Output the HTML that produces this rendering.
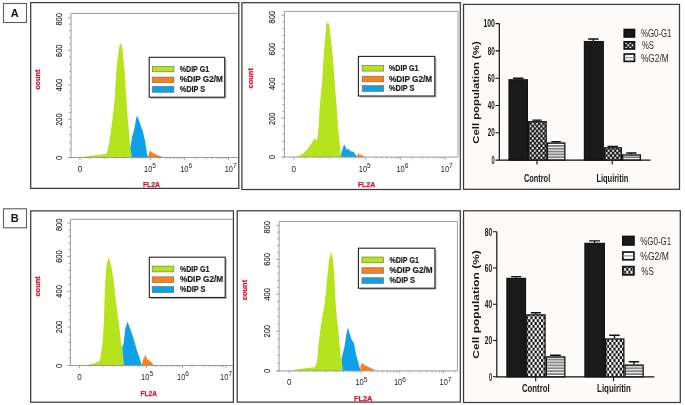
<!DOCTYPE html><html><head><meta charset="utf-8"><style>html,body{margin:0;padding:0;background:#fff;width:685px;height:405px;overflow:hidden;}svg{display:block;filter:blur(0.3px);}</style></head><body><svg width="685" height="405" viewBox="0 0 685 405" font-family='"Liberation Sans", sans-serif'>
<defs>
<pattern id="chkA" patternUnits="userSpaceOnUse" width="4.340" height="4.900"><rect width="4.340" height="4.900" fill="#111"/><rect x="2.350" y="0.180" width="1.810" height="2.090" fill="#fff"/><rect x="0.180" y="2.630" width="1.810" height="2.090" fill="#fff"/></pattern>
<pattern id="chkB" patternUnits="userSpaceOnUse" width="4.260" height="5.700"><rect width="4.260" height="5.700" fill="#111"/><rect x="2.130" y="0.000" width="2.130" height="2.850" fill="#fff"/><rect x="0.000" y="2.850" width="2.130" height="2.850" fill="#fff"/></pattern>
<pattern id="strA" patternUnits="userSpaceOnUse" width="10" height="2.85" y="0.5"><rect width="10" height="2.85" fill="#fff"/><rect y="-0.50" width="10" height="1.0" fill="#151515"/><rect y="2.35" width="10" height="1.0" fill="#151515"/></pattern>
<pattern id="strB" patternUnits="userSpaceOnUse" width="10" height="2.9" y="0.0"><rect width="10" height="2.9" fill="#fff"/><rect y="-0.50" width="10" height="1.0" fill="#151515"/><rect y="2.40" width="10" height="1.0" fill="#151515"/></pattern>
</defs>
<rect width="685" height="405" fill="#fff"/>
<rect x="3.5" y="3.5" width="23" height="19" fill="#fff" stroke="#5a5f63" stroke-width="1.1"/>
<text x="14.8" y="16.9" font-size="11" text-anchor="middle" font-weight="bold" fill="#111">A</text>
<rect x="3.5" y="208.8" width="23" height="19" fill="#fff" stroke="#5a5f63" stroke-width="1.1"/>
<text x="14.8" y="222.0" font-size="11" text-anchor="middle" font-weight="bold" fill="#111">B</text>
<rect x="30.7" y="2.6" width="208.10" height="185.80" fill="none" stroke="#3c3c3c" stroke-width="1.25"/>
<polygon points="81.5,157.5 84.0,156.7 88.0,156.1 93.0,155.5 98.0,154.9 103.0,154.3 106.2,154.1 107.5,150.4 109.0,145.0 110.3,135.2 112.5,119.1 114.9,97.0 115.6,82.4 116.6,67.6 118.4,52.8 119.1,46.9 120.6,43.3 122.3,46.9 122.8,52.8 124.3,67.6 125.4,82.4 126.2,97.0 127.8,119.1 129.3,135.2 130.2,148.0 131.9,157.5" fill="#b5e41c"/>
<polygon points="131.9,157.5 130.2,148.0 132.3,135.9 134.5,128.1 136.5,116.5 137.0,115.9 138.5,119.0 140.0,123.3 141.7,128.3 143.0,131.5 144.0,136.7 145.2,141.5 146.0,146.7 147.3,155.0 148.2,157.5" fill="#0fa1e7"/>
<polygon points="148.0,157.5 148.8,153.5 150.1,150.5 151.0,151.5 152.2,152.6 154.0,153.5 155.5,154.2 157.6,155.3 159.5,156.0 161.7,156.6 165.1,157.5" fill="#f8801f"/>
<path d="M71.0,157.5 V13.4 H238.0" fill="none" stroke="#9a9a9a" stroke-width="1"/>
<path d="M69.0,157.5 H238.0" fill="none" stroke="#9a9a9a" stroke-width="1"/>
<path d="M68.0,17.6H71.0M69.0,24.2H71.0M69.0,30.7H71.0M69.0,37.3H71.0M69.0,43.8H71.0M68.0,50.4H71.0M69.0,57.3H71.0M69.0,64.2H71.0M69.0,71.2H71.0M69.0,78.1H71.0M68.0,85.0H71.0M69.0,91.9H71.0M69.0,98.8H71.0M69.0,105.6H71.0M69.0,112.5H71.0M68.0,119.4H71.0M69.0,127.0H71.0M69.0,134.6H71.0M69.0,142.3H71.0M69.0,149.9H71.0M68.0,157.5H71.0" stroke="#9a9a9a" stroke-width="0.9"/>
<text x="61.9" y="19.3" font-size="9.2" text-anchor="middle" fill="#262626" textLength="12.5" lengthAdjust="spacingAndGlyphs" transform="rotate(-90 61.9 19.3)" stroke="#262626" stroke-width="0.15">800</text>
<text x="61.9" y="50.7" font-size="9.2" text-anchor="middle" fill="#262626" textLength="12.5" lengthAdjust="spacingAndGlyphs" transform="rotate(-90 61.9 50.7)" stroke="#262626" stroke-width="0.15">600</text>
<text x="61.9" y="85.1" font-size="9.2" text-anchor="middle" fill="#262626" textLength="12.5" lengthAdjust="spacingAndGlyphs" transform="rotate(-90 61.9 85.1)" stroke="#262626" stroke-width="0.15">400</text>
<text x="61.9" y="119.6" font-size="9.2" text-anchor="middle" fill="#262626" textLength="12.5" lengthAdjust="spacingAndGlyphs" transform="rotate(-90 61.9 119.6)" stroke="#262626" stroke-width="0.15">200</text>
<text x="61.9" y="157.8" font-size="9.2" text-anchor="middle" fill="#262626" textLength="4.2" lengthAdjust="spacingAndGlyphs" transform="rotate(-90 61.9 157.8)" stroke="#262626" stroke-width="0.15">0</text>
<path d="M80.0,157.5v2.5M150.2,157.5v2.5M184.8,157.5v2.5M228.5,157.5v2.5M90.0,157.5v1.5M105.0,157.5v1.5M115.0,157.5v1.5M125.0,157.5v1.5M132.0,157.5v1.5M137.0,157.5v1.5M141.0,157.5v1.5M144.0,157.5v1.5M147.0,157.5v1.5M160.0,157.5v1.5M166.0,157.5v1.5M170.0,157.5v1.5M174.0,157.5v1.5M177.0,157.5v1.5M180.0,157.5v1.5M182.5,157.5v1.5M195.0,157.5v1.5M206.0,157.5v1.5M212.0,157.5v1.5M217.0,157.5v1.5M221.0,157.5v1.5M224.0,157.5v1.5M226.5,157.5v1.5" stroke="#9a9a9a" stroke-width="0.9"/>
<text x="80.0" y="171.7" font-size="9.2" text-anchor="middle" fill="#262626" textLength="4.5" lengthAdjust="spacingAndGlyphs">0</text>
<text x="144.0" y="171.7" font-size="9.2" fill="#262626" textLength="8.3" lengthAdjust="spacingAndGlyphs">10</text>
<text x="152.3" y="168.2" font-size="6.3" fill="#262626" textLength="3.7" lengthAdjust="spacingAndGlyphs">5</text>
<text x="180.2" y="171.7" font-size="9.2" fill="#262626" textLength="8.3" lengthAdjust="spacingAndGlyphs">10</text>
<text x="188.5" y="168.2" font-size="6.3" fill="#262626" textLength="3.7" lengthAdjust="spacingAndGlyphs">6</text>
<text x="224.7" y="171.7" font-size="9.2" fill="#262626" textLength="8.3" lengthAdjust="spacingAndGlyphs">10</text>
<text x="233.0" y="168.2" font-size="6.3" fill="#262626" textLength="3.7" lengthAdjust="spacingAndGlyphs">7</text>
<text x="40.0" y="79.6" font-size="7.6" text-anchor="middle" font-weight="bold" fill="#d2122c" textLength="20.4" lengthAdjust="spacingAndGlyphs" transform="rotate(-90 40.0 79.6)" stroke="#d2122c" stroke-width="0.25">count</text>
<text x="142.9" y="186.9" font-size="8.1" font-weight="bold" fill="#d2122c" textLength="17.2" lengthAdjust="spacingAndGlyphs" stroke="#d2122c" stroke-width="0.25">FL2A</text>
<rect x="150.8" y="58.9" width="75.5" height="39.9" fill="#8a8a8a" opacity="0.6"/>
<rect x="149.2" y="57.3" width="75.5" height="39.9" fill="#fff" stroke="#222" stroke-width="1.1"/>
<rect x="152.4" y="66.3" width="21.5" height="5.5" fill="#b5e41c" stroke="#6a6a5a" stroke-width="0.7" stroke-opacity="0.85"/>
<text x="179.7" y="71.6" font-size="8.4" font-weight="bold" fill="#1e1e1e" textLength="29.5" lengthAdjust="spacingAndGlyphs" stroke="#1e1e1e" stroke-width="0.2">%DIP G1</text>
<rect x="152.4" y="77.1" width="21.5" height="5.5" fill="#f8801f" stroke="#6a6a5a" stroke-width="0.7" stroke-opacity="0.85"/>
<text x="179.7" y="82.4" font-size="8.4" font-weight="bold" fill="#1e1e1e" textLength="43.2" lengthAdjust="spacingAndGlyphs" stroke="#1e1e1e" stroke-width="0.2">%DIP G2/M</text>
<rect x="152.4" y="86.4" width="21.5" height="5.9" fill="#0fa1e7" stroke="#6a6a5a" stroke-width="0.7" stroke-opacity="0.85"/>
<text x="179.7" y="91.9" font-size="8.4" font-weight="bold" fill="#1e1e1e" textLength="25.5" lengthAdjust="spacingAndGlyphs" stroke="#1e1e1e" stroke-width="0.2">%DIP S</text>
<rect x="241.9" y="2.7" width="218.40" height="186.80" fill="none" stroke="#3c3c3c" stroke-width="1.25"/>
<polygon points="295.1,157.1 300.8,155.0 306.0,151.1 309.8,146.0 313.0,140.8 315.0,138.0 316.5,141.5 317.8,135.7 318.8,125.4 319.5,110.0 320.8,95.0 321.9,85.0 323.8,55.0 326.3,24.0 327.8,22.5 329.1,24.0 332.7,55.0 335.3,90.0 336.9,110.0 338.2,129.3 339.5,142.1 340.9,157.1" fill="#b5e41c"/>
<polygon points="340.9,157.1 341.5,152.0 342.5,149.5 343.5,146.0 344.8,145.0 346.0,148.0 347.0,150.0 348.5,148.5 350.0,151.0 352.0,151.5 353.5,152.0 355.0,154.0 356.5,155.5 357.0,157.1" fill="#0fa1e7"/>
<polygon points="357.0,157.1 357.5,155.0 358.3,152.5 359.5,155.0 361.0,154.5 362.0,155.5 364.0,156.0 365.0,157.1" fill="#f8801f"/>
<path d="M284.4,157.1 V11.4 H458.0" fill="none" stroke="#9a9a9a" stroke-width="1"/>
<path d="M458.0,11.4 V157.1" fill="none" stroke="#a0a0a0" stroke-width="1"/>
<path d="M282.4,157.1 H458.0" fill="none" stroke="#9a9a9a" stroke-width="1"/>
<path d="M281.4,15.2H284.4M282.4,21.9H284.4M282.4,28.6H284.4M282.4,35.4H284.4M282.4,42.1H284.4M281.4,48.8H284.4M282.4,55.9H284.4M282.4,62.9H284.4M282.4,70.0H284.4M282.4,77.0H284.4M281.4,84.1H284.4M282.4,90.9H284.4M282.4,97.8H284.4M282.4,104.6H284.4M282.4,111.5H284.4M281.4,118.3H284.4M282.4,126.1H284.4M282.4,133.8H284.4M282.4,141.6H284.4M282.4,149.3H284.4M281.4,157.1H284.4" stroke="#9a9a9a" stroke-width="0.9"/>
<text x="275.4" y="17.2" font-size="9.2" text-anchor="middle" fill="#262626" textLength="12.5" lengthAdjust="spacingAndGlyphs" transform="rotate(-90 275.4 17.2)" stroke="#262626" stroke-width="0.15">800</text>
<text x="275.4" y="49.2" font-size="9.2" text-anchor="middle" fill="#262626" textLength="12.5" lengthAdjust="spacingAndGlyphs" transform="rotate(-90 275.4 49.2)" stroke="#262626" stroke-width="0.15">600</text>
<text x="275.4" y="83.8" font-size="9.2" text-anchor="middle" fill="#262626" textLength="12.5" lengthAdjust="spacingAndGlyphs" transform="rotate(-90 275.4 83.8)" stroke="#262626" stroke-width="0.15">400</text>
<text x="275.4" y="118.7" font-size="9.2" text-anchor="middle" fill="#262626" textLength="12.5" lengthAdjust="spacingAndGlyphs" transform="rotate(-90 275.4 118.7)" stroke="#262626" stroke-width="0.15">200</text>
<text x="275.4" y="157.2" font-size="9.2" text-anchor="middle" fill="#262626" textLength="4.2" lengthAdjust="spacingAndGlyphs" transform="rotate(-90 275.4 157.2)" stroke="#262626" stroke-width="0.15">0</text>
<path d="M293.7,157.1v2.5M365.3,157.1v2.5M400.4,157.1v2.5M445.0,157.1v2.5M305.0,157.1v1.5M320.0,157.1v1.5M330.0,157.1v1.5M340.0,157.1v1.5M346.0,157.1v1.5M351.0,157.1v1.5M355.0,157.1v1.5M358.5,157.1v1.5M362.0,157.1v1.5M376.0,157.1v1.5M382.0,157.1v1.5M387.0,157.1v1.5M391.0,157.1v1.5M394.0,157.1v1.5M397.0,157.1v1.5M398.8,157.1v1.5M412.0,157.1v1.5M422.0,157.1v1.5M429.0,157.1v1.5M434.0,157.1v1.5M438.0,157.1v1.5M441.0,157.1v1.5M443.0,157.1v1.5" stroke="#9a9a9a" stroke-width="0.9"/>
<text x="293.7" y="171.8" font-size="9.2" text-anchor="middle" fill="#262626" textLength="4.5" lengthAdjust="spacingAndGlyphs">0</text>
<text x="358.8" y="171.8" font-size="9.2" fill="#262626" textLength="8.3" lengthAdjust="spacingAndGlyphs">10</text>
<text x="367.1" y="168.3" font-size="6.3" fill="#262626" textLength="3.7" lengthAdjust="spacingAndGlyphs">5</text>
<text x="396.4" y="171.8" font-size="9.2" fill="#262626" textLength="8.3" lengthAdjust="spacingAndGlyphs">10</text>
<text x="404.7" y="168.3" font-size="6.3" fill="#262626" textLength="3.7" lengthAdjust="spacingAndGlyphs">6</text>
<text x="440.8" y="171.8" font-size="9.2" fill="#262626" textLength="8.3" lengthAdjust="spacingAndGlyphs">10</text>
<text x="449.1" y="168.3" font-size="6.3" fill="#262626" textLength="3.7" lengthAdjust="spacingAndGlyphs">7</text>
<text x="252.7" y="78.3" font-size="7.6" text-anchor="middle" font-weight="bold" fill="#d2122c" textLength="20.4" lengthAdjust="spacingAndGlyphs" transform="rotate(-90 252.7 78.3)" stroke="#d2122c" stroke-width="0.25">count</text>
<text x="357.9" y="186.7" font-size="8.1" font-weight="bold" fill="#d2122c" textLength="17.3" lengthAdjust="spacingAndGlyphs" stroke="#d2122c" stroke-width="0.25">FL2A</text>
<rect x="360.0" y="58.0" width="76.4" height="39.6" fill="#8a8a8a" opacity="0.6"/>
<rect x="358.4" y="56.4" width="76.4" height="39.6" fill="#fff" stroke="#222" stroke-width="1.1"/>
<rect x="362.2" y="65.4" width="21.5" height="5.7" fill="#b5e41c" stroke="#6a6a5a" stroke-width="0.7" stroke-opacity="0.85"/>
<text x="389.0" y="70.8" font-size="8.4" font-weight="bold" fill="#1e1e1e" textLength="29.5" lengthAdjust="spacingAndGlyphs" stroke="#1e1e1e" stroke-width="0.2">%DIP G1</text>
<rect x="362.2" y="76.2" width="21.5" height="5.6" fill="#f8801f" stroke="#6a6a5a" stroke-width="0.7" stroke-opacity="0.85"/>
<text x="389.0" y="81.6" font-size="8.4" font-weight="bold" fill="#1e1e1e" textLength="43.2" lengthAdjust="spacingAndGlyphs" stroke="#1e1e1e" stroke-width="0.2">%DIP G2/M</text>
<rect x="362.2" y="85.6" width="21.5" height="5.8" fill="#0fa1e7" stroke="#6a6a5a" stroke-width="0.7" stroke-opacity="0.85"/>
<text x="389.0" y="91.1" font-size="8.4" font-weight="bold" fill="#1e1e1e" textLength="25.5" lengthAdjust="spacingAndGlyphs" stroke="#1e1e1e" stroke-width="0.2">%DIP S</text>
<rect x="30.7" y="210.9" width="202.70" height="191.30" fill="none" stroke="#3c3c3c" stroke-width="1.25"/>
<polygon points="81.9,365.5 86.0,365.0 90.0,364.3 95.0,363.0 99.2,361.3 100.6,358.0 101.5,350.0 102.6,343.0 104.0,320.0 104.5,300.0 105.4,279.7 106.6,264.9 108.7,257.1 111.0,264.9 113.6,279.7 115.1,294.6 117.0,310.0 119.0,325.0 121.1,342.2 122.2,348.0 123.9,365.5" fill="#b5e41c"/>
<polygon points="123.9,365.5 122.2,348.0 123.8,342.2 125.2,328.6 127.5,321.8 130.7,330.0 133.6,338.8 136.6,349.2 139.6,358.0 141.8,365.5" fill="#0fa1e7"/>
<polygon points="141.8,365.5 142.8,360.0 144.5,357.0 145.6,354.4 146.5,358.0 148.0,360.0 150.0,361.0 152.0,363.0 154.0,365.5" fill="#f8801f"/>
<path d="M70.4,365.5 V219.3 H233.0" fill="none" stroke="#9a9a9a" stroke-width="1"/>
<path d="M68.4,365.5 H233.0" fill="none" stroke="#9a9a9a" stroke-width="1"/>
<path d="M67.4,223.0H70.4M68.4,229.7H70.4M68.4,236.4H70.4M68.4,243.0H70.4M68.4,249.7H70.4M67.4,256.4H70.4M68.4,263.4H70.4M68.4,270.4H70.4M68.4,277.4H70.4M68.4,284.4H70.4M67.4,291.4H70.4M68.4,298.5H70.4M68.4,305.6H70.4M68.4,312.8H70.4M68.4,319.9H70.4M67.4,327.0H70.4M68.4,334.7H70.4M68.4,342.4H70.4M68.4,350.1H70.4M68.4,357.8H70.4M67.4,365.5H70.4" stroke="#9a9a9a" stroke-width="0.9"/>
<text x="62.4" y="224.8" font-size="9.2" text-anchor="middle" fill="#262626" textLength="12.5" lengthAdjust="spacingAndGlyphs" transform="rotate(-90 62.4 224.8)" stroke="#262626" stroke-width="0.15">800</text>
<text x="62.4" y="256.6" font-size="9.2" text-anchor="middle" fill="#262626" textLength="12.5" lengthAdjust="spacingAndGlyphs" transform="rotate(-90 62.4 256.6)" stroke="#262626" stroke-width="0.15">600</text>
<text x="62.4" y="291.4" font-size="9.2" text-anchor="middle" fill="#262626" textLength="12.5" lengthAdjust="spacingAndGlyphs" transform="rotate(-90 62.4 291.4)" stroke="#262626" stroke-width="0.15">400</text>
<text x="62.4" y="327.0" font-size="9.2" text-anchor="middle" fill="#262626" textLength="12.5" lengthAdjust="spacingAndGlyphs" transform="rotate(-90 62.4 327.0)" stroke="#262626" stroke-width="0.15">200</text>
<text x="62.4" y="365.9" font-size="9.2" text-anchor="middle" fill="#262626" textLength="4.2" lengthAdjust="spacingAndGlyphs" transform="rotate(-90 62.4 365.9)" stroke="#262626" stroke-width="0.15">0</text>
<path d="M79.4,365.5v2.5M146.5,365.5v2.5M182.5,365.5v2.5M226.0,365.5v2.5M90.0,365.5v1.5M103.0,365.5v1.5M113.0,365.5v1.5M122.0,365.5v1.5M129.0,365.5v1.5M134.0,365.5v1.5M138.0,365.5v1.5M141.0,365.5v1.5M144.0,365.5v1.5M156.0,365.5v1.5M162.0,365.5v1.5M167.0,365.5v1.5M171.0,365.5v1.5M174.0,365.5v1.5M177.0,365.5v1.5M179.5,365.5v1.5M192.0,365.5v1.5M203.0,365.5v1.5M209.0,365.5v1.5M214.0,365.5v1.5M218.0,365.5v1.5M221.0,365.5v1.5M223.5,365.5v1.5" stroke="#9a9a9a" stroke-width="0.9"/>
<text x="79.4" y="379.8" font-size="9.2" text-anchor="middle" fill="#262626" textLength="4.5" lengthAdjust="spacingAndGlyphs">0</text>
<text x="141.1" y="379.8" font-size="9.2" fill="#262626" textLength="8.3" lengthAdjust="spacingAndGlyphs">10</text>
<text x="149.4" y="376.3" font-size="6.3" fill="#262626" textLength="3.7" lengthAdjust="spacingAndGlyphs">5</text>
<text x="177.0" y="379.8" font-size="9.2" fill="#262626" textLength="8.3" lengthAdjust="spacingAndGlyphs">10</text>
<text x="185.3" y="376.3" font-size="6.3" fill="#262626" textLength="3.7" lengthAdjust="spacingAndGlyphs">6</text>
<text x="220.1" y="379.8" font-size="9.2" fill="#262626" textLength="8.3" lengthAdjust="spacingAndGlyphs">10</text>
<text x="228.4" y="376.3" font-size="6.3" fill="#262626" textLength="3.7" lengthAdjust="spacingAndGlyphs">7</text>
<text x="40.1" y="286.4" font-size="7.6" text-anchor="middle" font-weight="bold" fill="#d2122c" textLength="20.4" lengthAdjust="spacingAndGlyphs" transform="rotate(-90 40.1 286.4)" stroke="#d2122c" stroke-width="0.25">count</text>
<text x="140.4" y="395.5" font-size="8.1" font-weight="bold" fill="#d2122c" textLength="16.5" lengthAdjust="spacingAndGlyphs" stroke="#d2122c" stroke-width="0.25">FL2A</text>
<rect x="150.9" y="258.8" width="75.9" height="40.3" fill="#8a8a8a" opacity="0.6"/>
<rect x="149.3" y="257.2" width="75.9" height="40.3" fill="#fff" stroke="#222" stroke-width="1.1"/>
<rect x="152.2" y="266.1" width="21.6" height="5.8" fill="#b5e41c" stroke="#6a6a5a" stroke-width="0.7" stroke-opacity="0.85"/>
<text x="179.9" y="271.6" font-size="8.4" font-weight="bold" fill="#1e1e1e" textLength="29.5" lengthAdjust="spacingAndGlyphs" stroke="#1e1e1e" stroke-width="0.2">%DIP G1</text>
<rect x="152.2" y="276.8" width="21.6" height="5.7" fill="#f8801f" stroke="#6a6a5a" stroke-width="0.7" stroke-opacity="0.85"/>
<text x="179.9" y="282.2" font-size="8.4" font-weight="bold" fill="#1e1e1e" textLength="43.2" lengthAdjust="spacingAndGlyphs" stroke="#1e1e1e" stroke-width="0.2">%DIP G2/M</text>
<rect x="152.2" y="286.5" width="21.6" height="6.1" fill="#0fa1e7" stroke="#6a6a5a" stroke-width="0.7" stroke-opacity="0.85"/>
<text x="179.9" y="292.2" font-size="8.4" font-weight="bold" fill="#1e1e1e" textLength="25.5" lengthAdjust="spacingAndGlyphs" stroke="#1e1e1e" stroke-width="0.2">%DIP S</text>
<rect x="237.2" y="210.8" width="223.10" height="191.30" fill="none" stroke="#3c3c3c" stroke-width="1.25"/>
<polygon points="290.4,370.9 295.0,369.8 300.0,369.0 305.0,368.3 310.0,367.8 314.0,367.3 315.2,366.7 316.7,363.0 317.6,355.6 318.3,346.3 319.4,337.0 320.7,327.8 322.0,318.5 323.7,309.3 324.9,302.0 326.1,289.6 327.6,274.7 329.1,259.9 331.3,251.7 333.1,259.9 334.3,274.7 335.0,289.6 335.8,305.2 336.9,318.5 338.0,327.8 338.9,337.0 339.6,345.6 340.9,358.5 342.8,370.9" fill="#b5e41c"/>
<polygon points="342.8,370.9 341.4,359.5 343.2,352.0 344.7,345.6 346.3,334.5 348.0,327.4 349.5,333.0 351.3,338.9 354.1,343.5 355.9,353.7 358.7,363.9 360.6,370.9" fill="#0fa1e7"/>
<polygon points="360.2,370.9 360.5,365.5 362.0,363.0 363.5,364.2 366.0,365.7 368.0,366.8 370.7,368.1 373.0,369.2 376.0,370.9" fill="#f8801f"/>
<path d="M279.1,370.9 V221.5 H457.4" fill="none" stroke="#9a9a9a" stroke-width="1"/>
<path d="M457.4,221.5 V370.9" fill="none" stroke="#a0a0a0" stroke-width="1"/>
<path d="M277.1,370.9 H457.4" fill="none" stroke="#9a9a9a" stroke-width="1"/>
<path d="M276.1,225.4H279.1M277.1,232.2H279.1M277.1,239.0H279.1M277.1,245.7H279.1M277.1,252.5H279.1M276.1,259.3H279.1M277.1,266.3H279.1M277.1,273.3H279.1M277.1,280.3H279.1M277.1,287.3H279.1M276.1,294.3H279.1M277.1,301.7H279.1M277.1,309.1H279.1M277.1,316.4H279.1M277.1,323.8H279.1M276.1,331.2H279.1M277.1,339.1H279.1M277.1,347.1H279.1M277.1,355.0H279.1M277.1,363.0H279.1M276.1,370.9H279.1" stroke="#9a9a9a" stroke-width="0.9"/>
<text x="269.6" y="227.3" font-size="9.2" text-anchor="middle" fill="#262626" textLength="12.5" lengthAdjust="spacingAndGlyphs" transform="rotate(-90 269.6 227.3)" stroke="#262626" stroke-width="0.15">800</text>
<text x="269.6" y="259.4" font-size="9.2" text-anchor="middle" fill="#262626" textLength="12.5" lengthAdjust="spacingAndGlyphs" transform="rotate(-90 269.6 259.4)" stroke="#262626" stroke-width="0.15">600</text>
<text x="269.6" y="294.3" font-size="9.2" text-anchor="middle" fill="#262626" textLength="12.5" lengthAdjust="spacingAndGlyphs" transform="rotate(-90 269.6 294.3)" stroke="#262626" stroke-width="0.15">400</text>
<text x="269.6" y="331.2" font-size="9.2" text-anchor="middle" fill="#262626" textLength="12.5" lengthAdjust="spacingAndGlyphs" transform="rotate(-90 269.6 331.2)" stroke="#262626" stroke-width="0.15">200</text>
<text x="269.6" y="371.0" font-size="9.2" text-anchor="middle" fill="#262626" textLength="4.2" lengthAdjust="spacingAndGlyphs" transform="rotate(-90 269.6 371.0)" stroke="#262626" stroke-width="0.15">0</text>
<path d="M289.2,370.9v2.5M361.2,370.9v2.5M399.8,370.9v2.5M443.6,370.9v2.5M300.0,370.9v1.5M315.0,370.9v1.5M326.0,370.9v1.5M336.0,370.9v1.5M343.0,370.9v1.5M348.0,370.9v1.5M352.0,370.9v1.5M355.0,370.9v1.5M358.5,370.9v1.5M372.0,370.9v1.5M378.0,370.9v1.5M383.0,370.9v1.5M387.0,370.9v1.5M390.5,370.9v1.5M394.0,370.9v1.5M396.8,370.9v1.5M410.0,370.9v1.5M420.0,370.9v1.5M427.0,370.9v1.5M432.0,370.9v1.5M436.0,370.9v1.5M439.5,370.9v1.5M441.8,370.9v1.5M454.9,370.9v1.5" stroke="#9a9a9a" stroke-width="0.9"/>
<text x="289.2" y="385.3" font-size="9.2" text-anchor="middle" fill="#262626" textLength="4.5" lengthAdjust="spacingAndGlyphs">0</text>
<text x="355.4" y="385.3" font-size="9.2" fill="#262626" textLength="8.3" lengthAdjust="spacingAndGlyphs">10</text>
<text x="363.7" y="381.8" font-size="6.3" fill="#262626" textLength="3.7" lengthAdjust="spacingAndGlyphs">5</text>
<text x="393.9" y="385.3" font-size="9.2" fill="#262626" textLength="8.3" lengthAdjust="spacingAndGlyphs">10</text>
<text x="402.2" y="381.8" font-size="6.3" fill="#262626" textLength="3.7" lengthAdjust="spacingAndGlyphs">6</text>
<text x="439.5" y="385.3" font-size="9.2" fill="#262626" textLength="8.3" lengthAdjust="spacingAndGlyphs">10</text>
<text x="447.8" y="381.8" font-size="6.3" fill="#262626" textLength="3.7" lengthAdjust="spacingAndGlyphs">7</text>
<text x="246.6" y="290.0" font-size="7.6" text-anchor="middle" font-weight="bold" fill="#d2122c" textLength="20.4" lengthAdjust="spacingAndGlyphs" transform="rotate(-90 246.6 290.0)" stroke="#d2122c" stroke-width="0.25">count</text>
<text x="354.1" y="401.0" font-size="8.1" font-weight="bold" fill="#d2122c" textLength="18.3" lengthAdjust="spacingAndGlyphs" stroke="#d2122c" stroke-width="0.25">FL2A</text>
<rect x="360.0" y="249.8" width="76.5" height="40.0" fill="#8a8a8a" opacity="0.6"/>
<rect x="358.4" y="248.2" width="76.5" height="40.0" fill="#fff" stroke="#222" stroke-width="1.1"/>
<rect x="361.9" y="257.0" width="21.7" height="5.8" fill="#b5e41c" stroke="#6a6a5a" stroke-width="0.7" stroke-opacity="0.85"/>
<text x="389.4" y="262.5" font-size="8.4" font-weight="bold" fill="#1e1e1e" textLength="29.5" lengthAdjust="spacingAndGlyphs" stroke="#1e1e1e" stroke-width="0.2">%DIP G1</text>
<rect x="361.9" y="267.7" width="21.7" height="5.6" fill="#f8801f" stroke="#6a6a5a" stroke-width="0.7" stroke-opacity="0.85"/>
<text x="389.4" y="273.1" font-size="8.4" font-weight="bold" fill="#1e1e1e" textLength="43.2" lengthAdjust="spacingAndGlyphs" stroke="#1e1e1e" stroke-width="0.2">%DIP G2/M</text>
<rect x="361.9" y="277.7" width="21.7" height="5.7" fill="#0fa1e7" stroke="#6a6a5a" stroke-width="0.7" stroke-opacity="0.85"/>
<text x="389.4" y="283.1" font-size="8.4" font-weight="bold" fill="#1e1e1e" textLength="25.5" lengthAdjust="spacingAndGlyphs" stroke="#1e1e1e" stroke-width="0.2">%DIP S</text>
<rect x="463.5" y="4.4" width="216.00" height="184.90" fill="#fcfbf9" stroke="#3c3c3c" stroke-width="1.25"/>
<path d="M499.3,23.6V160.1H650.5" stroke="#111" stroke-width="1.2" fill="none"/>
<text x="494.8" y="163.7" font-size="10.1" text-anchor="end" font-weight="bold" fill="#1a1a1a" textLength="3.2" lengthAdjust="spacingAndGlyphs">0</text>
<text x="494.8" y="136.4" font-size="10.1" text-anchor="end" font-weight="bold" fill="#1a1a1a" textLength="7.0" lengthAdjust="spacingAndGlyphs">20</text>
<text x="494.8" y="109.1" font-size="10.1" text-anchor="end" font-weight="bold" fill="#1a1a1a" textLength="7.0" lengthAdjust="spacingAndGlyphs">40</text>
<text x="494.8" y="81.8" font-size="10.1" text-anchor="end" font-weight="bold" fill="#1a1a1a" textLength="7.0" lengthAdjust="spacingAndGlyphs">60</text>
<text x="494.8" y="54.5" font-size="10.1" text-anchor="end" font-weight="bold" fill="#1a1a1a" textLength="7.0" lengthAdjust="spacingAndGlyphs">80</text>
<text x="494.8" y="27.2" font-size="10.1" text-anchor="end" font-weight="bold" fill="#1a1a1a" textLength="11.3" lengthAdjust="spacingAndGlyphs">100</text>
<path d="M495.5,160.1H499.3M495.5,132.8H499.3M495.5,105.5H499.3M495.5,78.2H499.3M495.5,50.9H499.3M495.5,23.6H499.3M537.0,160.1V164.6M612.2,160.1V164.6" stroke="#111" stroke-width="1.1"/>
<rect x="509.05" y="79.81" width="18.30" height="80.29" fill="#1a1a1a" stroke="#141414" stroke-width="1.3"/>
<path d="M518.3,79.2V78.2M513.1,78.2H523.5" stroke="#111" stroke-width="1.4" fill="none"/>
<rect x="528.65" y="121.71" width="17.50" height="38.39" fill="url(#chkA)" stroke="#141414" stroke-width="1.3"/>
<path d="M537.0,121.1V120.1M532.4,120.1H541.7" stroke="#111" stroke-width="1.4" fill="none"/>
<rect x="547.45" y="143.00" width="17.40" height="17.10" fill="url(#strA)" stroke="#141414" stroke-width="1.3"/>
<path d="M556.1,142.4V141.6M551.5,141.6H560.8" stroke="#111" stroke-width="1.4" fill="none"/>
<rect x="584.45" y="41.59" width="18.80" height="118.51" fill="#1a1a1a" stroke="#141414" stroke-width="1.3"/>
<path d="M593.4,40.9V39.0M588.1,39.0H598.7" stroke="#111" stroke-width="1.4" fill="none"/>
<rect x="604.55" y="147.85" width="16.80" height="12.25" fill="url(#chkA)" stroke="#141414" stroke-width="1.3"/>
<path d="M612.8,147.2V146.5M607.5,146.5H618.0" stroke="#111" stroke-width="1.4" fill="none"/>
<rect x="622.65" y="154.95" width="17.70" height="5.15" fill="url(#strA)" stroke="#141414" stroke-width="1.3"/>
<path d="M631.4,154.3V153.0M626.3,153.0H636.5" stroke="#111" stroke-width="1.4" fill="none"/>
<text x="523.9" y="181.8" font-size="10.3" font-weight="bold" fill="#1a1a1a" textLength="26.3" lengthAdjust="spacingAndGlyphs">Control</text>
<text x="596.4" y="181.8" font-size="10.3" font-weight="bold" fill="#1a1a1a" textLength="31.9" lengthAdjust="spacingAndGlyphs">Liquiritin</text>
<text x="478.9" y="92.5" font-size="8.2" text-anchor="middle" font-weight="bold" fill="#1a1a1a" textLength="102.4" lengthAdjust="spacingAndGlyphs" transform="rotate(-90 478.9 92.5)">Cell population (%)</text>
<rect x="624.25" y="29.55" width="10.20" height="7.40" fill="#1a1a1a" stroke="#111" stroke-width="1.7"/>
<text x="641.0" y="37.2" font-size="10.6" fill="#2a2a2a" textLength="30.4" lengthAdjust="spacingAndGlyphs">%G0-G1</text>
<rect x="624.25" y="41.85" width="10.20" height="7.10" fill="url(#chkA)" stroke="#111" stroke-width="1.7"/>
<text x="641.9" y="49.2" font-size="10.6" fill="#2a2a2a" textLength="12.0" lengthAdjust="spacingAndGlyphs">%S</text>
<rect x="624.25" y="54.05" width="10.20" height="7.30" fill="#fff" stroke="#111" stroke-width="1.7"/>
<path d="M623.4,57.7H635.3" stroke="#777" stroke-width="1"/>
<text x="641.0" y="61.6" font-size="10.6" fill="#2a2a2a" textLength="27.6" lengthAdjust="spacingAndGlyphs">%G2/M</text>
<rect x="463.5" y="210.8" width="216.80" height="191.70" fill="#fcfbf9" stroke="#3c3c3c" stroke-width="1.25"/>
<path d="M496.8,231.7V376.8H654.4" stroke="#111" stroke-width="1.2" fill="none"/>
<text x="492.2" y="380.7" font-size="10.8" text-anchor="end" font-weight="bold" fill="#1a1a1a" textLength="3.2" lengthAdjust="spacingAndGlyphs">0</text>
<text x="492.2" y="344.4" font-size="10.8" text-anchor="end" font-weight="bold" fill="#1a1a1a" textLength="7.4" lengthAdjust="spacingAndGlyphs">20</text>
<text x="492.2" y="308.1" font-size="10.8" text-anchor="end" font-weight="bold" fill="#1a1a1a" textLength="7.4" lengthAdjust="spacingAndGlyphs">40</text>
<text x="492.2" y="271.8" font-size="10.8" text-anchor="end" font-weight="bold" fill="#1a1a1a" textLength="7.4" lengthAdjust="spacingAndGlyphs">60</text>
<text x="492.2" y="235.6" font-size="10.8" text-anchor="end" font-weight="bold" fill="#1a1a1a" textLength="7.4" lengthAdjust="spacingAndGlyphs">80</text>
<path d="M493.0,376.8H496.8M493.0,340.5H496.8M493.0,304.2H496.8M493.0,268.0H496.8M493.0,231.7H496.8M535.7,376.8V381.3M613.5,376.8V381.3" stroke="#111" stroke-width="1.1"/>
<rect x="506.95" y="278.41" width="18.50" height="98.39" fill="#1a1a1a" stroke="#141414" stroke-width="1.3"/>
<path d="M516.2,277.8V276.6M511.2,276.6H521.2" stroke="#111" stroke-width="1.4" fill="none"/>
<rect x="526.75" y="314.87" width="18.30" height="61.93" fill="url(#chkB)" stroke="#141414" stroke-width="1.3"/>
<path d="M535.8,314.2V312.7M530.8,312.7H540.9" stroke="#111" stroke-width="1.4" fill="none"/>
<rect x="546.35" y="356.95" width="18.50" height="19.85" fill="url(#strB)" stroke="#141414" stroke-width="1.3"/>
<path d="M555.4,356.3V355.3M550.0,355.3H560.8" stroke="#111" stroke-width="1.4" fill="none"/>
<rect x="584.95" y="243.40" width="19.40" height="133.40" fill="#1a1a1a" stroke="#141414" stroke-width="1.3"/>
<path d="M594.6,242.7V240.9M589.2,240.9H600.0" stroke="#111" stroke-width="1.4" fill="none"/>
<rect x="605.65" y="338.99" width="18.20" height="37.81" fill="url(#chkB)" stroke="#141414" stroke-width="1.3"/>
<path d="M614.5,338.3V335.2M609.2,335.2H619.7" stroke="#111" stroke-width="1.4" fill="none"/>
<rect x="625.15" y="365.11" width="18.00" height="11.69" fill="url(#strB)" stroke="#141414" stroke-width="1.3"/>
<path d="M634.0,364.5V361.7M628.8,361.7H639.1" stroke="#111" stroke-width="1.4" fill="none"/>
<text x="521.9" y="391.8" font-size="10.3" font-weight="bold" fill="#1a1a1a" textLength="27.8" lengthAdjust="spacingAndGlyphs">Control</text>
<text x="597.1" y="391.8" font-size="10.3" font-weight="bold" fill="#1a1a1a" textLength="33.8" lengthAdjust="spacingAndGlyphs">Liquiritin</text>
<text x="479.1" y="304.4" font-size="8.2" text-anchor="middle" font-weight="bold" fill="#1a1a1a" textLength="108.5" lengthAdjust="spacingAndGlyphs" transform="rotate(-90 479.1 304.4)">Cell population (%)</text>
<rect x="622.85" y="236.45" width="11.10" height="8.50" fill="#1a1a1a" stroke="#111" stroke-width="1.7"/>
<text x="640.3" y="245.2" font-size="11.3" fill="#2a2a2a" textLength="30.9" lengthAdjust="spacingAndGlyphs">%G0-G1</text>
<rect x="622.85" y="252.05" width="11.10" height="7.70" fill="#fff" stroke="#111" stroke-width="1.7"/>
<path d="M622.0,255.9H634.8" stroke="#777" stroke-width="1"/>
<text x="640.3" y="260.0" font-size="11.3" fill="#2a2a2a" textLength="28.5" lengthAdjust="spacingAndGlyphs">%G2/M</text>
<rect x="622.85" y="266.65" width="11.10" height="8.20" fill="url(#chkB)" stroke="#111" stroke-width="1.7"/>
<text x="641.2" y="275.1" font-size="11.3" fill="#2a2a2a" textLength="12.6" lengthAdjust="spacingAndGlyphs">%S</text>
</svg></body></html>
